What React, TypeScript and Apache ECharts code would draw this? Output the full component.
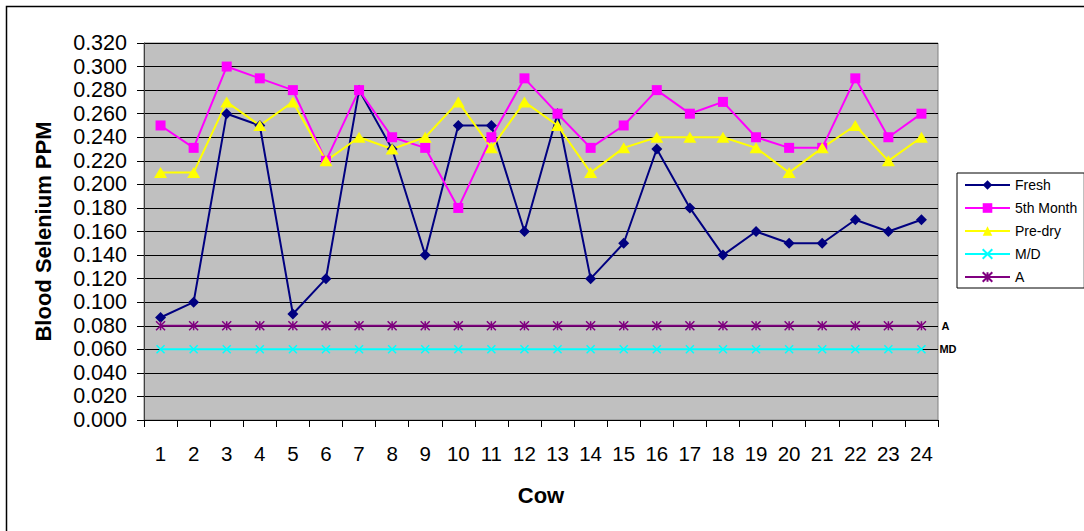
import React, { useEffect, useRef } from "react";
import * as echarts from "echarts";

const cows = ["1","2","3","4","5","6","7","8","9","10","11","12","13","14","15","16","17","18","19","20","21","22","23","24"];
const fresh = [0.087,0.100,0.260,0.250,0.090,0.120,0.280,0.230,0.140,0.250,0.250,0.160,0.260,0.120,0.150,0.230,0.180,0.140,0.160,0.150,0.150,0.170,0.160,0.170];
const fifthMonth = [0.250,0.231,0.300,0.290,0.280,0.220,0.280,0.240,0.231,0.180,0.240,0.290,0.260,0.231,0.250,0.280,0.260,0.270,0.240,0.231,0.231,0.290,0.240,0.260];
const preDry = [0.210,0.210,0.270,0.250,0.270,0.220,0.240,0.230,0.240,0.270,0.231,0.270,0.250,0.210,0.231,0.240,0.240,0.240,0.231,0.210,0.231,0.250,0.220,0.240];
const md = [0.06,0.06,0.06,0.06,0.06,0.06,0.06,0.06,0.06,0.06,0.06,0.06,0.06,0.06,0.06,0.06,0.06,0.06,0.06,0.06,0.06,0.06,0.06,0.06];
const aLevel = [0.08,0.08,0.08,0.08,0.08,0.08,0.08,0.08,0.08,0.08,0.08,0.08,0.08,0.08,0.08,0.08,0.08,0.08,0.08,0.08,0.08,0.08,0.08,0.08];

const FONT = "'Liberation Sans', Arial, sans-serif";
const crossPath = "path://M0,0 L10,10 M10,0 L0,10";
const starPath = "path://M0,0 L10,10 M10,0 L0,10 M5,0 L5,10";

export default function App() {
  const ref = useRef<HTMLDivElement>(null);
  useEffect(() => {
    const chart = echarts.init(ref.current!, undefined, { renderer: "svg" });
    chart.setOption({
      animation: false,
      backgroundColor: "#ffffff",
      textStyle: { fontFamily: FONT },
      graphic: [
        {
          type: "rect",
          silent: true,
          z: -10,
          shape: { x: 6.5, y: 6.5, width: 1200, height: 700 },
          style: { fill: "none", stroke: "#000", lineWidth: 1.5 },
        },
      ],
      grid: {
        left: 144,
        top: 43,
        width: 794,
        height: 377,
        show: true,
        backgroundColor: "#C0C0C0",
        borderColor: "#808080",
        borderWidth: 1,
      },
      legend: {
        orient: "vertical",
        left: 957,
        top: 173,
        padding: [5, 7, 4, 7],
        itemWidth: 45,
        itemHeight: 12,
        itemGap: 9,
        borderColor: "#000",
        borderWidth: 1,
        backgroundColor: "#fff",
        textStyle: { fontFamily: FONT, fontSize: 14, color: "#000" },
        data: ["Fresh", "5th Month", "Pre-dry", "M/D", "A"],
      },
      xAxis: {
        type: "category",
        data: cows,
        boundaryGap: true,
        name: "Cow",
        nameLocation: "middle",
        nameGap: 64,
        nameTextStyle: { fontFamily: FONT, fontSize: 22, fontWeight: "bold", color: "#000" },
        axisLine: { show: true, lineStyle: { color: "#000", width: 1 } },
        axisTick: { show: true, length: 7, lineStyle: { color: "#000" } },
        axisLabel: { fontFamily: FONT, fontSize: 20.5, color: "#000", margin: 23 },
        splitLine: { show: false },
      },
      yAxis: {
        type: "value",
        min: 0,
        max: 0.32,
        interval: 0.02,
        name: "Blood Selenium PPM",
        nameLocation: "middle",
        nameGap: 90,
        nameTextStyle: { fontFamily: FONT, fontSize: 22, fontWeight: "bold", color: "#000" },
        axisLine: { show: true, lineStyle: { color: "#404040", width: 1 } },
        axisTick: { show: true, length: 7, lineStyle: { color: "#000" } },
        axisLabel: {
          fontFamily: FONT,
          fontSize: 21.5,
          color: "#000",
          margin: 17,
          formatter: (v: number) => v.toFixed(3),
        },
        splitLine: { show: true, lineStyle: { color: "#000", width: 1 } },
      },
      series: [
        {
          name: "Fresh",
          type: "line",
          data: fresh,
          symbol: "diamond",
          symbolSize: 11,
          lineStyle: { color: "#000080", width: 2 },
          itemStyle: { color: "#000080" },
        },
        {
          name: "5th Month",
          type: "line",
          data: fifthMonth,
          symbol: "rect",
          symbolSize: 10,
          lineStyle: { color: "#FF00FF", width: 2 },
          itemStyle: { color: "#FF00FF" },
        },
        {
          name: "Pre-dry",
          type: "line",
          data: preDry,
          symbol: "triangle",
          symbolSize: [13, 11],
          lineStyle: { color: "#FFFF00", width: 2 },
          itemStyle: { color: "#FFFF00" },
        },
        {
          name: "M/D",
          type: "line",
          data: md,
          symbol: crossPath,
          symbolSize: 8,
          lineStyle: { color: "#00FFFF", width: 2 },
          itemStyle: { color: "#00FFFF", borderColor: "#00FFFF", borderWidth: 1.5 },
          endLabel: {
            show: true,
            formatter: "MD",
            distance: 18,
            fontFamily: FONT,
            fontSize: 11,
            fontWeight: "bold",
            color: "#000",
          },
        },
        {
          name: "A",
          type: "line",
          data: aLevel,
          symbol: starPath,
          symbolSize: 9,
          lineStyle: { color: "#800080", width: 2 },
          itemStyle: { color: "#800080", borderColor: "#800080", borderWidth: 1.5 },
          endLabel: {
            show: true,
            formatter: "A",
            distance: 20,
            fontFamily: FONT,
            fontSize: 11,
            fontWeight: "bold",
            color: "#000",
          },
        },
      ],
    });
    return () => chart.dispose();
  }, []);
  return (
    <div
      ref={ref}
      style={{ position: "absolute", left: 0, top: 0, width: 1084, height: 531, background: "#fff" }}
    />
  );
}
